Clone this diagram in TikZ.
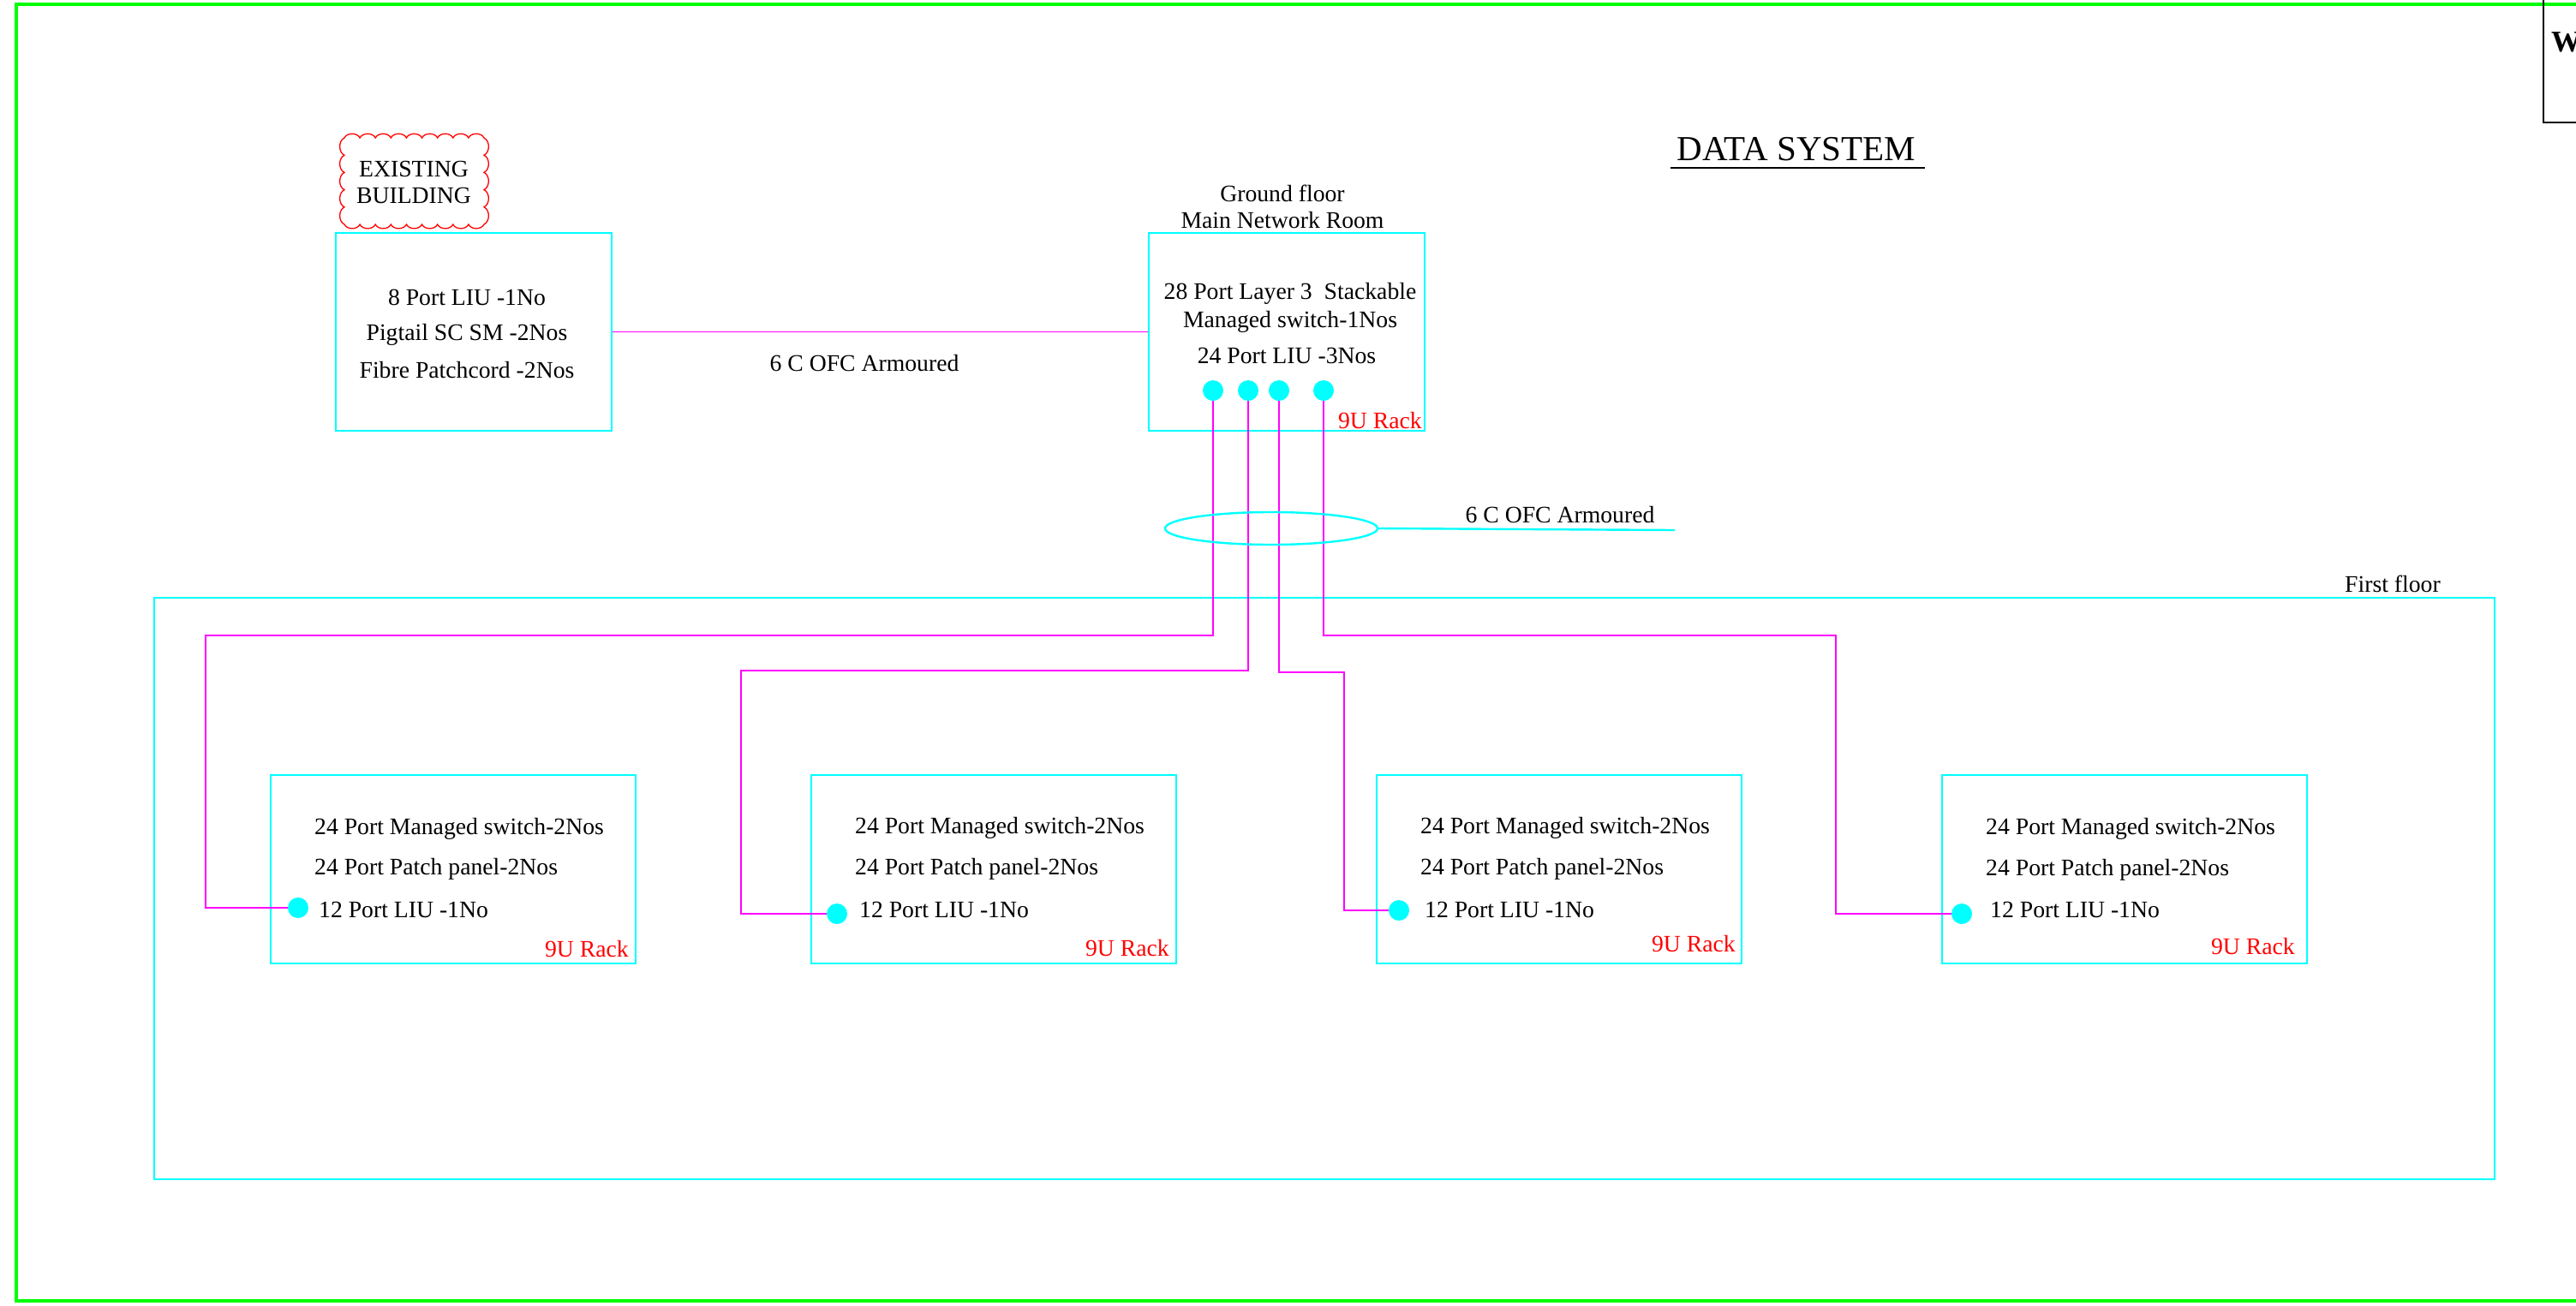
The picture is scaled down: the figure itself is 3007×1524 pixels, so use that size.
\documentclass[tikz,border=0pt]{standalone}
\usepackage{fontspec}
\setmainfont{Liberation Serif}
\usetikzlibrary{shapes.geometric}
\definecolor{cy}{RGB}{0,255,255}
\definecolor{mg}{RGB}{255,0,255}
\definecolor{gr}{RGB}{0,255,0}
\definecolor{rd}{RGB}{255,0,0}
\begin{document}
\begin{tikzpicture}[x=1pt,y=1pt,
  cybox/.style={draw=cy, line width=2.6pt, inner sep=0pt},
  txt/.style={font=\fontsize{27.7}{33}\selectfont, inner sep=0pt, anchor=base},
  ltxt/.style={txt, anchor=base west},
  rack/.style={txt, text=rd, anchor=base east},
  port/.style={circle, fill=cy, inner sep=0pt, minimum size=24pt},
  fib/.style={draw=mg, line width=1.8pt},
  cloudline/.style={draw=rd, line width=1.3pt}]
\useasboundingbox (0,0) rectangle (3007,-1524);
% outer frame
\draw[gr, line width=3.5pt] (19,-1519) rectangle (3030,-5);
% title block corner
\draw[black, line width=2.5pt] (2969,10) -- (2969,-143) -- (3030,-143);
\node[font=\fontsize{35}{40}\selectfont\bfseries, inner sep=0pt, anchor=base west] (w) at (2978,-60) {W};
% title
\node[font=\fontsize{41}{47}\selectfont, inner sep=0pt, anchor=base] (ds) at (2097,-187) {DATA SYSTEM};
\coordinate (ul1) at (1950,-196);
\coordinate (ul2) at (2247,-196);
\draw[line width=1.8pt] (ul1) -- (ul2);
% existing building cloud
\draw[cloudline] (402,-161)
  \foreach \i in {1,...,9} { to[bend left=65] ({402+\i*163/9},-161) }
  \foreach \i in {1,...,5} { to[bend left=65] (565,{-161-\i*101/5}) }
  \foreach \i in {1,...,9} { to[bend left=65] ({565-\i*163/9},-262) }
  \foreach \i in {1,...,5} { to[bend left=65] (402,{-262+\i*101/5}) };
\node[txt] (eb1) at (483,-206) {EXISTING};
\node[txt] (eb2) at (483,-237) {BUILDING};
% existing building box
\node[cybox, minimum width=322pt, minimum height=231pt] (ex) at (553,-387.5) {};
\node[txt] (ex1) at (545,-356) {8 Port LIU -1No};
\node[txt] (ex2) at (545,-397) {Pigtail SC SM -2Nos};
\node[txt] (ex3) at (545,-441) {Fibre Patchcord -2Nos};
% main network room
\node[txt] (gf1) at (1497,-235) {Ground floor};
\node[txt] (gf2) at (1497,-266) {Main Network Room};
\node[cybox, minimum width=322pt, minimum height=231pt] (main) at (1502,-387.5) {};
\node[txt] (m1) at (1506,-349) {28 Port Layer 3\ \ Stackable};
\node[txt] (m2) at (1506,-382) {Managed switch-1Nos};
\node[txt] (m3) at (1502,-424) {24 Port LIU -3Nos};
\node[rack] (mr) at (1660,-500) {9U Rack};
\node[port] (p1) at (1416,-456) {};
\node[port] (p2) at (1457,-456) {};
\node[port] (p3) at (1493,-456) {};
\node[port] (p4) at (1545,-456) {};
% link between buildings
\draw[fib] (ex.east) -- (main.west);
\node[txt] (ofc1) at (1009,-433) {6 C OFC Armoured};
% first floor
\node[cybox, minimum width=2732pt, minimum height=679pt] (ff) at (1546,-1037.5) {};
\node[txt] (fft) at (2793,-691) {First floor};
% floor racks
\node[cybox, minimum width=426pt, minimum height=220pt] (b1) at (529,-1015) {};
\node[cybox, minimum width=426pt, minimum height=220pt] (b2) at (1160,-1015) {};
\node[cybox, minimum width=426pt, minimum height=220pt] (b3) at (1820,-1015) {};
\node[cybox, minimum width=426pt, minimum height=220pt] (b4) at (2480,-1015) {};
\node[ltxt] (b1a) at (367,-974) {24 Port Managed switch-2Nos};
\node[ltxt] (b1b) at (367,-1021) {24 Port Patch panel-2Nos};
\node[ltxt] (b1c) at (372,-1071) {12 Port LIU -1No};
\node[rack] (b1r) at (734,-1117) {9U Rack};
\node[ltxt] (b2a) at (998,-973) {24 Port Managed switch-2Nos};
\node[ltxt] (b2b) at (998,-1021) {24 Port Patch panel-2Nos};
\node[ltxt] (b2c) at (1003,-1071) {12 Port LIU -1No};
\node[rack] (b2r) at (1365,-1116) {9U Rack};
\node[ltxt] (b3a) at (1658,-973) {24 Port Managed switch-2Nos};
\node[ltxt] (b3b) at (1658,-1021) {24 Port Patch panel-2Nos};
\node[ltxt] (b3c) at (1663,-1071) {12 Port LIU -1No};
\node[rack] (b3r) at (2026,-1111) {9U Rack};
\node[ltxt] (b4a) at (2318,-974) {24 Port Managed switch-2Nos};
\node[ltxt] (b4b) at (2318,-1022) {24 Port Patch panel-2Nos};
\node[ltxt] (b4c) at (2323,-1071) {12 Port LIU -1No};
\node[rack] (b4r) at (2679,-1114) {9U Rack};
\node[port] (d1) at (348,-1060) {};
\node[port] (d2) at (977,-1067) {};
\node[port] (d3) at (1633,-1063) {};
\node[port] (d4) at (2290,-1067) {};
% fibre routes
\coordinate (k1) at (240,-742);
\coordinate (k2) at (865,-783);
\coordinate (k3) at (1569,-785);
\coordinate (k4) at (2143,-742);
\draw[fib] (p1) |- (k1) |- (d1);
\draw[fib] (p2) |- (k2) |- (d2);
\draw[fib] (p3) |- (k3) |- (d3);
\draw[fib] (p4) |- (k4) |- (d4);
% cable bundle marker
\node[ellipse, draw=cy, line width=2.4pt, inner sep=0pt, minimum width=248pt, minimum height=38pt] (bund) at (1484,-617) {};
\coordinate (ofcend) at (1955,-619);
\draw[cy, line width=2.4pt] (bund.east) -- (ofcend);
\node[txt] (ofc2) at (1821,-610) {6 C OFC Armoured};
\end{tikzpicture}
\end{document}
